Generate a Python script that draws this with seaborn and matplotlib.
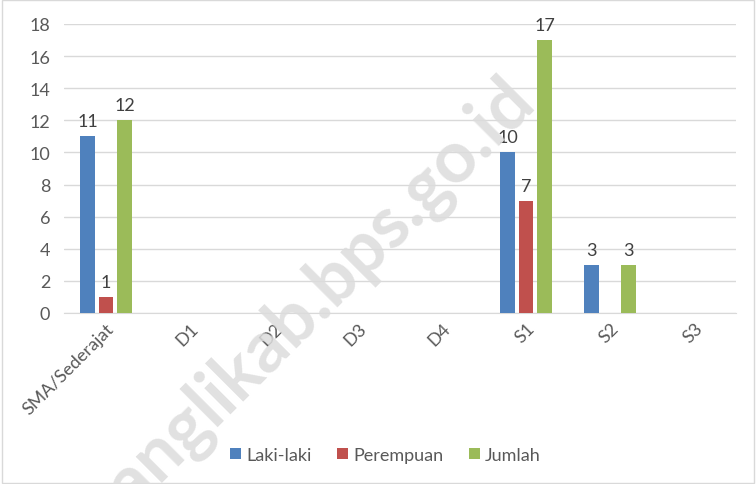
import pandas as pd
import matplotlib.pyplot as plt
import seaborn as sns

categories = ["SMA/Sederajat", "D1", "D2", "D3", "D4", "S1", "S2", "S3"]
laki = [11, 0, 0, 0, 0, 10, 3, 0]
perempuan = [1, 0, 0, 0, 0, 7, 0, 0]
jumlah = [12, 0, 0, 0, 0, 17, 3, 0]
series = ["Laki-laki", "Perempuan", "Jumlah"]
colors = ["#4f81bd", "#c0504d", "#9bbb59"]

df = pd.DataFrame({"Pendidikan": categories, "Laki-laki": laki,
                   "Perempuan": perempuan, "Jumlah": jumlah})
df = df.melt(id_vars="Pendidikan", var_name="Jenis", value_name="Nilai")

sns.set_style("white")
plt.rcParams["font.family"] = ["Lato", "DejaVu Sans"]
text_color = "#595959"

fig = plt.figure(figsize=(7.56, 4.85), dpi=100)
ax = fig.add_axes([0.0847, 0.3526, 0.889, 0.5959])

sns.barplot(data=df, x="Pendidikan", y="Nilai", hue="Jenis", hue_order=series,
            palette=colors, width=0.66, gap=0.2, order=categories, ax=ax,
            legend=True, saturation=1, linewidth=0, zorder=3)

for cont in ax.containers:
    labels = [f"{v:g}" if v > 0 else "" for v in cont.datavalues]
    ax.bar_label(cont, labels=labels, padding=5, fontsize=13, color="#404040")

ax.set_ylim(0, 18)
ax.set_yticks(range(0, 19, 2))
ax.grid(axis="y", color="#d9d9d9", linewidth=1, zorder=0)
ax.set_axisbelow(True)
for s in ["top", "right", "left"]:
    ax.spines[s].set_visible(False)
ax.spines["bottom"].set_color("#d9d9d9")
ax.set_xlabel("")
ax.set_ylabel("")
ax.tick_params(axis="both", length=0, labelsize=13, colors=text_color, pad=10)
ax.tick_params(axis="x", pad=5)
plt.setp(ax.get_xticklabels(), rotation=45, ha="right", rotation_mode="anchor")

leg = ax.legend(loc="center", bbox_to_anchor=(0.51, 0.06), bbox_transform=fig.transFigure,
                ncol=3, frameon=False, fontsize=13, handlelength=0.6,
                handleheight=0.6, handletextpad=0.3, columnspacing=1.4)
for t in leg.get_texts():
    t.set_color(text_color)

# watermark, runs off the bottom edge like the original
fig.text(0.405, 0.37, "banglikab.bps.go.id", fontsize=52, fontweight="bold",
         color="#dcdcdc", alpha=0.85, rotation=45, ha="center", va="center",
         zorder=10)

fig.patches.append(plt.Rectangle((0.002, 0.002), 0.996, 0.996, transform=fig.transFigure,
                                 fill=False, edgecolor="#d9d9d9", linewidth=1))

plt.savefig("out.png", dpi=100)
